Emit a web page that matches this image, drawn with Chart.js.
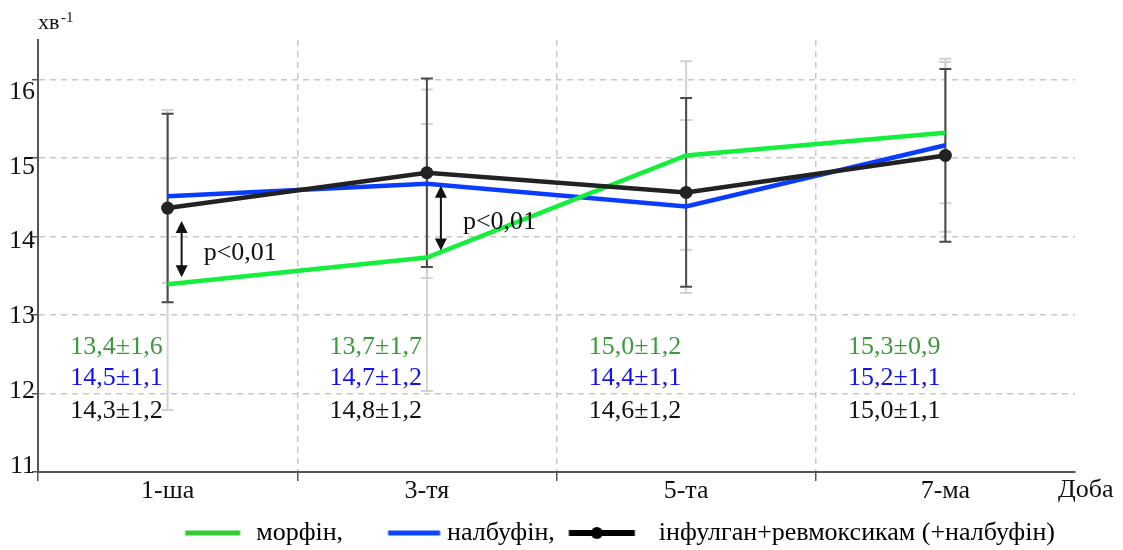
<!DOCTYPE html>
<html>
<head>
<meta charset="utf-8">
<script src="https://cdn.jsdelivr.net/npm/chart.js@4.4.1/dist/chart.umd.min.js"></script>
<style>
  html, body { margin: 0; padding: 0; background: #fff; }
  #wrap { width: 1123px; height: 550px; }
</style>
</head>
<body>
<div id="wrap"><canvas id="chart"></canvas></div>
<script>
// days of observation
const categories = ["1-ша", "3-тя", "5-та", "7-ма"];

// plotted means
const morphine = [13.39, 13.73, 15.03, 15.32];
const nalbuphine = [14.51, 14.67, 14.38, 15.16];
const infulgan = [14.36, 14.81, 14.56, 15.03];

// standard deviations (error bars)
const morphineSd = [1.6, 1.7, 1.2, 0.9];
const nalbuphineSd = [1.1, 1.2, 1.1, 1.1];
const infulganSd = [1.2, 1.2, 1.2, 1.1];

// value captions printed under the lines
const morphineText = ["13,4±1,6", "13,7±1,7", "15,0±1,2", "15,3±0,9"];
const nalbuphineText = ["14,5±1,1", "14,7±1,2", "14,4±1,1", "15,2±1,1"];
const infulganText = ["14,3±1,2", "14,8±1,2", "14,6±1,2", "15,0±1,1"];

const seriesNames = ["морфін,", "налбуфін,", "інфулган+ревмоксикам (+налбуфін)"];
const pMarks = [0, 1]; // category index where p<0,01 is shown
const pText = "p<0,01";

const yMin = 11;
const yMax = 16.5;

const SERIF = '"Liberation Serif", "Times New Roman", serif';
const GREEN = "#14ee3c";
const BLUE = "#0a3cff";
const BLACK = "#222222";

// small line icons for the legend (offsets relative to the icon slot centre)
function legendIcon(color, from, to, thick, dot) {
  const half = Math.ceil(Math.max(Math.abs(from), Math.abs(to))) + 8;
  const c = document.createElement("canvas");
  c.width = half * 2;
  c.height = 14;
  const g = c.getContext("2d");
  g.fillStyle = color;
  g.fillRect(half + from, 7 - thick / 2, to - from, thick);
  if (dot !== undefined) {
    g.beginPath();
    g.arc(half + dot, 7, 6, 0, Math.PI * 2);
    g.fill();
  }
  return c;
}

const legendIcons = [
  legendIcon("#33cc33", -22.5, 32.5, 5),
  legendIcon("#0a46ff", -10.5, 41.5, 5),
  legendIcon("#000000", -41.5, 24.5, 6, -13.5),
];

const errorBars = {
  id: "errorBars",
  beforeDatasetsDraw(chart) {
    const { ctx, scales: { x, y } } = chart;
    const groups = [
      [morphine, morphineSd, "#d2d2d2"],
      [nalbuphine, nalbuphineSd, "#d2d2d2"],
      [infulgan, infulganSd, "#4a4a4a"],
    ];
    ctx.save();
    ctx.lineWidth = 2;
    groups.forEach(([mean, sd, color]) => {
      ctx.strokeStyle = color;
      mean.forEach((m, i) => {
        const px = x.getPixelForValue(i);
        const top = y.getPixelForValue(m + sd[i]);
        const bot = y.getPixelForValue(m - sd[i]);
        ctx.beginPath();
        ctx.moveTo(px, top);
        ctx.lineTo(px, bot);
        ctx.moveTo(px - 6, top);
        ctx.lineTo(px + 6, top);
        ctx.moveTo(px - 6, bot);
        ctx.lineTo(px + 6, bot);
        ctx.stroke();
      });
    });
    ctx.restore();
  },
};

function arrowHead(ctx, x, y, dir) {
  ctx.beginPath();
  ctx.moveTo(x, y);
  ctx.lineTo(x - 6, y + dir * 12);
  ctx.lineTo(x + 6, y + dir * 12);
  ctx.closePath();
  ctx.fill();
}

const annotations = {
  id: "annotations",
  afterDatasetsDraw(chart) {
    const { ctx, chartArea, scales: { x, y } } = chart;
    ctx.save();

    // value captions
    ctx.font = "26px " + SERIF;
    ctx.textAlign = "right";
    ctx.textBaseline = "middle";
    const rows = [
      [morphineText, "#3c9a3c", 125],
      [nalbuphineText, "#1010f0", 94],
      [infulganText, "#111111", 61],
    ];
    rows.forEach(([texts, color, up]) => {
      ctx.fillStyle = color;
      texts.forEach((t, i) => {
        ctx.fillText(t, x.getPixelForValue(i) - 5, chartArea.bottom - up);
      });
    });

    // p<0,01 marks between infulgan and morphine
    ctx.strokeStyle = "#111";
    ctx.fillStyle = "#111";
    ctx.lineWidth = 2;
    pMarks.forEach((i) => {
      const ax = x.getPixelForValue(i) + 14;
      const top = y.getPixelForValue(infulgan[i]) + 13;
      const bot = y.getPixelForValue(morphine[i]) - 7;
      ctx.beginPath();
      ctx.moveTo(ax, top + 8);
      ctx.lineTo(ax, bot - 8);
      ctx.stroke();
      arrowHead(ctx, ax, top, 1);
      arrowHead(ctx, ax, bot, -1);
      ctx.font = "26px " + SERIF;
      ctx.textAlign = "left";
      ctx.fillText(pText, ax + 22, (top + bot) / 2 + 4);
    });

    // unit label at top of the y axis
    ctx.textAlign = "left";
    ctx.textBaseline = "alphabetic";
    ctx.font = "22px " + SERIF;
    ctx.fillText("хв", chartArea.left, 29);
    ctx.font = "15px " + SERIF;
    ctx.fillText("-1", chartArea.left + 23, 22);

    // x axis name
    ctx.font = "26px " + SERIF;
    ctx.fillText("Доба", chartArea.right - 17, 497);
    ctx.restore();
  },
};

const hideEdge = (c, color) => (c.type !== "tick" || c.index === 0 ? "rgba(0,0,0,0)" : color);

new Chart(document.getElementById("chart"), {
  type: "line",
  data: {
    labels: categories,
    datasets: [
      {
        label: seriesNames[0],
        data: morphine,
        borderColor: GREEN,
        backgroundColor: GREEN,
        borderWidth: 4.5,
        pointRadius: 0,
        order: 1,
      },
      {
        label: seriesNames[1],
        data: nalbuphine,
        borderColor: BLUE,
        backgroundColor: BLUE,
        borderWidth: 4.5,
        pointRadius: 0,
        order: 2,
      },
      {
        label: seriesNames[2],
        data: infulgan,
        borderColor: BLACK,
        backgroundColor: BLACK,
        borderWidth: 4.5,
        pointRadius: 6.5,
        pointBackgroundColor: BLACK,
        pointBorderWidth: 0,
        order: 0,
      },
    ],
  },
  options: {
    responsive: true,
    maintainAspectRatio: false,
    animation: false,
    layout: {
      padding: { top: 40, right: 48, left: 0, bottom: 0 },
    },
    scales: {
      x: {
        type: "category",
        offset: true,
        grid: {
          offset: true,
          color: (c) => hideEdge(c, "#c8c8c8"),
          tickColor: (c) => (c.type !== "tick" ? "rgba(0,0,0,0)" : "#555"),
          tickLength: 9,
          tickBorderDash: [],
          lineWidth: 1.5,
        },
        border: { color: "#555", width: 2, dash: [6, 5] },
        ticks: {
          font: { family: SERIF, size: 26 },
          color: "#111",
          padding: -5,
          maxRotation: 0,
        },
        afterFit(scale) {
          scale.height = 28;
        },
      },
      y: {
        min: yMin,
        max: yMax,
        weight: 0,
        grid: {
          color: "#c8c8c8",
          lineWidth: 1.5,
          tickColor: "#555",
          tickLength: 6,
          tickBorderDash: [],
        },
        border: { color: "#555", width: 2, dash: [6, 5] },
        ticks: { display: false, stepSize: 1, includeBounds: false },
        afterFit(scale) {
          scale.width = 0;
        },
      },
      yLabels: {
        type: "linear",
        position: "left",
        weight: 1,
        min: 10.92,
        max: 16.695,
        grid: { display: false, drawTicks: false },
        border: { display: false },
        ticks: {
          stepSize: 1,
          includeBounds: false,
          font: { family: SERIF, size: 26 },
          color: "#111",
          padding: 3,
        },
        afterFit(scale) {
          scale.width = 38;
        },
      },
    },
    plugins: {
      legend: {
        position: "bottom",
        align: "end",
        maxHeight: 50,
        labels: {
          font: { family: SERIF, size: 26 },
          color: "#111",
          usePointStyle: true,
          pointStyleWidth: 71,
          padding: 20,
          generateLabels: (chart) =>
            chart.data.datasets.map((ds, i) => ({
              text: ds.label,
              pointStyle: legendIcons[i],
              fillStyle: ds.borderColor,
              strokeStyle: ds.borderColor,
              lineWidth: 0,
              hidden: false,
              datasetIndex: i,
            })),
        },
      },
      tooltip: { enabled: false },
    },
  },
  plugins: [errorBars, annotations],
});
</script>
</body>
</html>
